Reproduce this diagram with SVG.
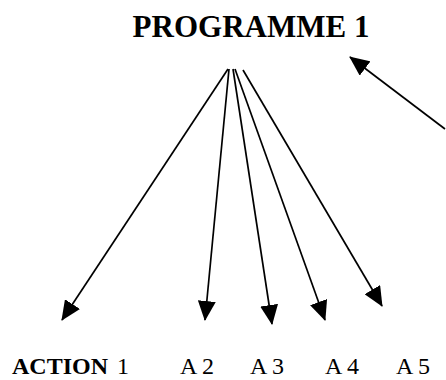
<svg xmlns="http://www.w3.org/2000/svg" width="446" height="380" viewBox="0 0 446 380">
  <style>
    .t { font-family: "Liberation Serif", "Times New Roman", serif; fill: #000; }
    .title { font-size: 31px; font-weight: bold; }
    .lab { font-size: 24px; }
    .b { font-weight: bold; }
    .conn line { stroke: #000; stroke-width: 1.7; marker-end: url(#ah); }
  </style>
  <defs>
    <marker id="ah" viewBox="0 0 20 18" refX="19" refY="9" markerWidth="20" markerHeight="18" markerUnits="userSpaceOnUse" orient="auto">
      <path d="M0,0 L20,9 L0,18 z" fill="#000"/>
    </marker>
  </defs>
  <rect width="446" height="380" fill="#fff"/>
  <g id="programme1">
    <text class="t title" x="251" y="37" text-anchor="middle">PROGRAMME 1</text>
  </g>
  <g id="action1">
    <text class="t lab" x="12" y="374"><tspan class="b">ACTION</tspan><tspan x="117">1</tspan></text>
  </g>
  <g id="a2"><text class="t lab" x="180" y="374">A 2</text></g>
  <g id="a3"><text class="t lab" x="250" y="374">A 3</text></g>
  <g id="a4"><text class="t lab" x="325" y="374">A 4</text></g>
  <g id="a5"><text class="t lab" x="396" y="374">A 5</text></g>
  <g id="connectors" class="conn">
    <line x1="228" y1="69" x2="62" y2="320"/>
    <line x1="229" y1="69" x2="205" y2="320"/>
    <line x1="233" y1="69" x2="272" y2="324"/>
    <line x1="235" y1="69" x2="325" y2="320"/>
    <line x1="243" y1="70" x2="382" y2="306"/>
    <line x1="445" y1="129" x2="350" y2="57"/>
  </g>
</svg>
